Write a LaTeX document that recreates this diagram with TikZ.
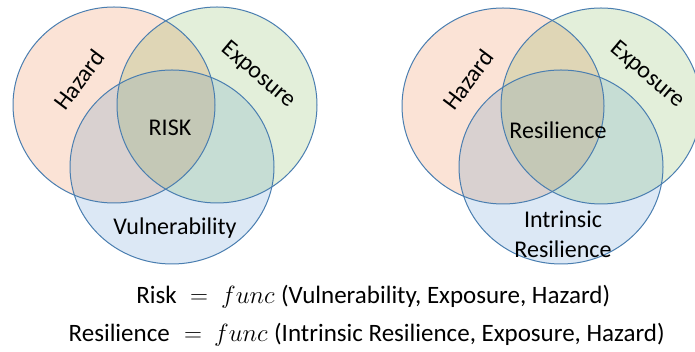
\documentclass[tikz,border=0pt]{standalone}
\usepackage{fontspec}
\setmainfont{Carlito}
\begin{document}
\begin{tikzpicture}[x=1pt,y=1pt,
  outl/.style={draw=strokeblue,line width=1pt},
  lbl/.style={font=\fontsize{24}{26}\selectfont,inner sep=0pt},
  eq/.style={font=\fontsize{25}{28}\selectfont,inner sep=0pt},
  fn/.style={font=\fontsize{23}{26}\selectfont,inner sep=0pt}]
\definecolor{strokeblue}{HTML}{4A7EB0}
\definecolor{cH}{HTML}{FBE3D6}
\definecolor{cE}{HTML}{E3EFDA}
\definecolor{cV}{HTML}{DCE8F5}
\definecolor{cHE}{HTML}{DFD6B6}
\definecolor{cHV}{HTML}{D9D1D0}
\definecolor{cEV}{HTML}{C6DDD4}
\definecolor{cHEV}{HTML}{C4C8B6}
\useasboundingbox (0,0) rectangle (695,352);
\clip (0,0) rectangle (695,352);
% ---------- generic Venn macro ----------
\newcommand{\myvenn}[3]{%
 % #1 hazard center, #2 exposure center, #3 vulnerability center
 \fill[cH] #1 ellipse [x radius=101,y radius=98];
 \fill[cE] #2 ellipse [x radius=100,y radius=98];
 \fill[cV] #3 ellipse [x radius=102,y radius=97];
 \begin{scope}\clip #1 ellipse [x radius=101,y radius=98];
   \fill[cHE] #2 ellipse [x radius=100,y radius=98];
   \fill[cHV] #3 ellipse [x radius=102,y radius=97];
 \end{scope}
 \begin{scope}\clip #2 ellipse [x radius=100,y radius=98];
   \fill[cEV] #3 ellipse [x radius=102,y radius=97];
   \clip #1 ellipse [x radius=101,y radius=98];
   \fill[cHEV] #3 ellipse [x radius=102,y radius=97];
 \end{scope}
 \draw[outl] #1 ellipse [x radius=101,y radius=98];
 \draw[outl] #2 ellipse [x radius=100,y radius=98];
 \draw[outl] #3 ellipse [x radius=102,y radius=97];
}
% left diagram
\coordinate (lH) at (114,247);
\coordinate (lE) at (217,247);
\coordinate (lV) at (172,185);
\myvenn{(lH)}{(lE)}{(lV)}
\node[lbl,rotate=53] (lHz) at (79,272) {Hazard};
\node[lbl,rotate=-40] (lEx) at (258,277) {Exposure};
\node[lbl] (lRisk) at (170,224) {RISK};
\node[lbl] (lVul) at (175,124) {Vulnerability};
% right diagram
\coordinate (rH) at (503,246);
\coordinate (rE) at (601,246);
\coordinate (rV) at (561,185);
\myvenn{(rH)}{(rE)}{(rV)}
\node[lbl,rotate=53] (rHz) at (468,272) {Hazard};
\node[lbl,rotate=-40] (rEx) at (647,277) {Exposure};
\node[lbl] (rRes) at (558,222) {Resilience};
\node[lbl,align=center,font=\fontsize{24}{30}\selectfont] (rIR) at (563,118) {Intrinsic\\Resilience};
% equations
\node[eq,anchor=base east] (eq1l) at (177,48) {Risk};
\node[eq,anchor=base] (eq1e) at (199,48) {$=$};
\node[fn,anchor=base west] (eq1f) at (221,48) {$func$};
\node[eq,anchor=base west] (eq1r) at ([xshift=6pt]eq1f.base east) {(Vulnerability, Exposure, Hazard)};
\node[eq,anchor=base east] (eq2l) at (170,10) {Resilience};
\node[eq,anchor=base] (eq2e) at (193,10) {$=$};
\node[fn,anchor=base west] (eq2f) at (214,10) {$func$};
\node[eq,anchor=base west] (eq2r) at ([xshift=6pt]eq2f.base east) {(Intrinsic Resilience, Exposure, Hazard)};
\end{tikzpicture}
\end{document}
